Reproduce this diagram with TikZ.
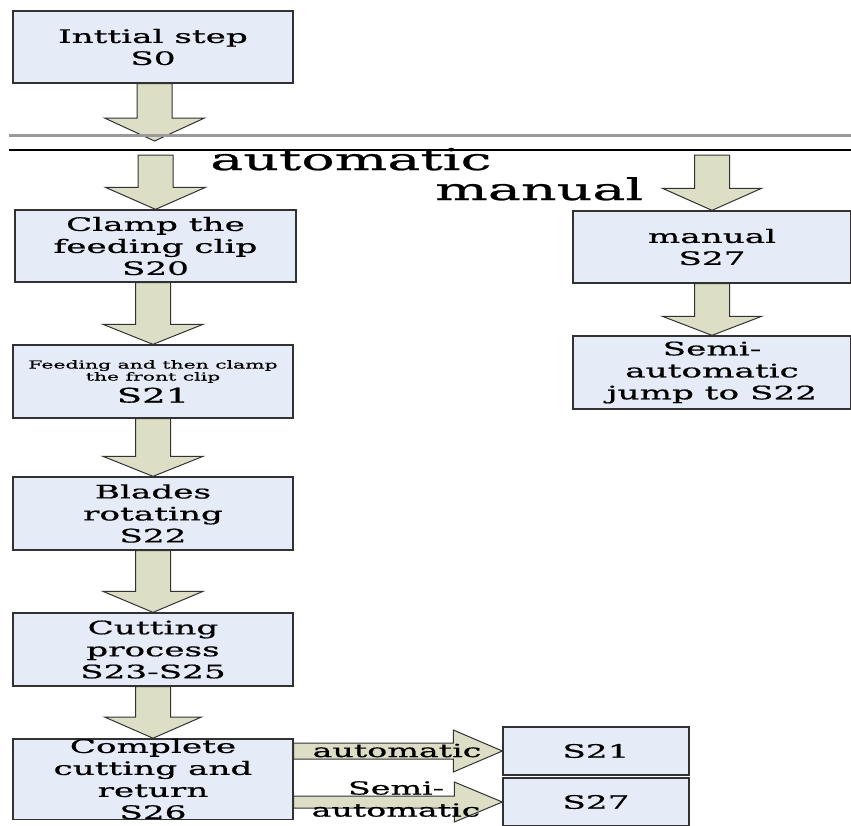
\documentclass[tikz,border=0pt]{standalone}
\usepackage{fontspec}
\newfontfamily\wide[FakeStretch=1.85,FakeBold=0.8]{DejaVu Serif}
\usetikzlibrary{calc}
\definecolor{boxfill}{RGB}{230,236,247}
\definecolor{arrowfill}{RGB}{220,223,198}
\definecolor{edge}{RGB}{50,50,50}
\pgfdeclarelayer{bg}
\pgfsetlayers{bg,main}
\tikzset{
  stepbox/.style={draw=edge, line width=1.3pt, fill=boxfill, rectangle, inner sep=0pt,
    align=center, font=\wide\fontsize{18.5}{22}\selectfont},
  blockarrow/.style={draw=edge, line width=1pt, fill=arrowfill, line join=miter},
  biglabel/.style={font=\wide\fontsize{30}{30}\selectfont, inner sep=0pt},
  arrowlabel/.style={font=\wide\fontsize{18}{22}\selectfont, inner sep=0pt, align=center},
  sepgray/.style={draw=gray!80, line width=3pt},
  sepblack/.style={draw=black, line width=1.3pt},
}
% vertical block arrow: #1 shaft start, #2 tip, #3 half shaft, #4 half head, #5 head length
\newcommand\vblock[5]{\draw[blockarrow] let \p1=(#1), \p2=(#2) in
  (\x2-#3,\y1) -- (\x2+#3,\y1) -- (\x2+#3,\y2+#5) -- (\x2+#4,\y2+#5) -- (\x2,\y2)
  -- (\x2-#4,\y2+#5) -- (\x2-#3,\y2+#5) -- cycle;}
% horizontal block arrow
\newcommand\hblock[5]{\draw[blockarrow] let \p1=(#1), \p2=(#2) in
  (\x1,\y2+#3) -- (\x2-#5,\y2+#3) -- (\x2-#5,\y2+#4) -- (\x2,\y2)
  -- (\x2-#5,\y2-#4) -- (\x2-#5,\y2-#3) -- (\x1,\y2-#3) -- cycle;}
\begin{document}
\begin{tikzpicture}[x=1pt,y=-1pt]
\useasboundingbox (0,0) rectangle (851,825);
% boxes
\node[stepbox, minimum width=280pt, minimum height=72pt] (s0) at (153,47) {Inttial step\\S0};
\node[stepbox, minimum width=281pt, minimum height=72pt] (clamp) at (155.5,246) {Clamp the\\feeding clip\\S20};
\node[stepbox, minimum width=280pt, minimum height=73pt] (s21) at (153,381.5)
  {\fontsize{11}{12}\selectfont Feeding and then clamp\\[-10pt]\fontsize{11}{12}\selectfont the front clip\\[0pt]\fontsize{20}{22}\selectfont S21};
\node[stepbox, minimum width=280pt, minimum height=73pt] (blades) at (153,513.5) {Blades\\rotating\\S22};
\node[stepbox, minimum width=280pt, minimum height=73pt] (cutting) at (153,649.5) {Cutting\\process\\S23-S25};
\node[stepbox, minimum width=280pt, minimum height=72pt] (complete) at (153,779) {Complete\\cutting and\\return\\S26};
\node[stepbox, minimum width=278pt, minimum height=72pt] (man) at (712,247) {manual\\S27};
\node[stepbox, minimum width=278pt, minimum height=73pt] (semi) at (712,372.5) {Semi-\\automatic\\jump to S22};
\node[stepbox, minimum width=186pt, minimum height=48pt] (r21) at (596,751) {S21};
\node[stepbox, minimum width=186pt, minimum height=48pt] (r27) at (596,802) {S27};
% coordinates
\coordinate (t1) at (154.5,141);
\coordinate (a2) at (154.5,155);
\coordinate (m1) at (712.5,155);
\coordinate (sepL1) at (9,135);
\coordinate (sepR1) at (851,135);
\coordinate (sepL2) at (9,150);
\coordinate (sepR2) at (851,150);
% arrows
\begin{pgfonlayer}{bg}
\vblock{s0.south}{t1}{17.5}{50}{23}
\vblock{a2}{clamp.north}{17.5}{50}{22}
\vblock{clamp.south}{s21.north}{17.5}{50}{20}
\vblock{s21.south}{blades.north}{17.5}{50}{20}
\vblock{blades.south}{cutting.north}{17.5}{50}{21}
\vblock{cutting.south}{complete.north}{17.5}{48}{21}
\vblock{m1}{man.north}{17.5}{49.5}{22}
\vblock{man.south}{semi.north}{17.5}{49.5}{19}
\hblock{complete.east}{r21.west}{8}{21}{49}
\hblock{complete.east}{r27.west}{6}{20}{48}
\end{pgfonlayer}
% separators
\draw[sepgray] (sepL1) -- (sepR1);
\draw[sepblack] (sepL2) -- (sepR2);
% labels
\node[biglabel, anchor=base west] (lauto) at (210,170) {automatic};
\node[biglabel, anchor=base west] (lman) at (435,200) {manual};
\node[arrowlabel, anchor=base] (lauto2) at (397,757) {automatic};
\node[arrowlabel] (lsemi) at (396,799) {Semi-\\automatic};
\end{tikzpicture}
\end{document}
